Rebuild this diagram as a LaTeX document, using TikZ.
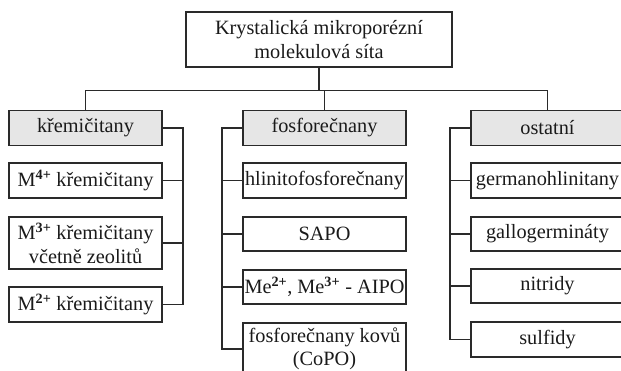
\documentclass[tikz,border=0pt]{standalone}
\usepackage{fontspec}
\setmainfont{Liberation Serif}
\definecolor{lc}{HTML}{2A2A2A}
\definecolor{tc}{HTML}{1A1A1A}
\definecolor{gf}{HTML}{E6E6E6}
\newcommand{\supx}[1]{\textsuperscript{\bfseries #1}}
\tikzset{
  box/.style={draw=lc, line width=1.3pt, inner sep=0pt, align=center, text=tc,
    font=\fontsize{20.3}{23.5}\selectfont, minimum height=35pt},
  hdr/.style={box, fill=gf},
  conn/.style={draw=lc, line width=1.3pt},
  lcol/.style={minimum width=153pt},
  mcol/.style={minimum width=163pt},
  rcol/.style={minimum width=153pt},
}
\begin{document}
\begin{tikzpicture}[x=1pt,y=1pt]
\useasboundingbox (0,0) rectangle (621,-371);
\clip (0,0) rectangle (621,-371);
% top
\node[box, minimum width=266pt, minimum height=55pt] (top) at (319,-39.5) {Krystalická mikroporézní\\molekulová síta};
% left column
\node[hdr, lcol] (k) at (85.5,-128) {křemičitany};
\node[box, lcol] (k4) at (85.5,-180.5) {M\supx{4+} křemičitany};
\node[box, lcol, minimum height=52pt] (k3) at (85.5,-243) {M\supx{3+} křemičitany\\včetně zeolitů};
\node[box, lcol] (k2) at (85.5,-304.5) {M\supx{2+} křemičitany};
% middle column
\node[hdr, mcol] (f) at (324.5,-128) {fosforečnany};
\node[box, mcol] (f1) at (324.5,-180.5) {hlinitofosforečnany};
\node[box, mcol, minimum height=34pt] (f2) at (324.5,-234) {SAPO};
\node[box, mcol, minimum height=34pt] (f3) at (324.5,-287) {Me\supx{2+}, Me\supx{3+} - AIPO};
\node[box, mcol, minimum height=52pt] (f4) at (324.5,-349) {fosforečnany kovů\\(CoPO)};
% right column
\node[hdr, rcol] (o) at (547.5,-128) {ostatní};
\node[box, rcol] (o1) at (547.5,-180.5) {germanohlinitany};
\node[box, rcol, minimum height=34pt] (o2) at (547.5,-234) {gallogermináty};
\node[box, rcol, minimum height=34pt] (o3) at (547.5,-286) {nitridy};
\node[box, rcol] (o4) at (547.5,-339.5) {sulfidy};
% tree
\draw[conn] (top.south) -- ++(0,-23) coordinate (j);
\draw[conn] (k.north) |- (j) -| (o.north);
\draw[conn] (f.north) -- (f.north |- j);
% left bracket
\coordinate (lb) at (183,0);
\draw[conn] (k.east) -- (k.east -| lb) -- (k2.east -| lb) -- (k2.east);
\draw[conn] (k4.east) -- (k4.east -| lb);
\draw[conn] (k3.east) -- (k3.east -| lb);
% middle bracket
\coordinate (mb) at (222,0);
\draw[conn] (f.west) -- (f.west -| mb) -- (f4.west -| mb) -- (f4.west);
\draw[conn] (f1.west) -- (f1.west -| mb);
\draw[conn] (f2.west) -- (f2.west -| mb);
\draw[conn] (f3.west) -- (f3.west -| mb);
% right bracket
\coordinate (rb) at (450,0);
\draw[conn] (o.west) -- (o.west -| rb) -- (o4.west -| rb) -- (o4.west);
\draw[conn] (o1.west) -- (o1.west -| rb);
\draw[conn] (o2.west) -- (o2.west -| rb);
\draw[conn] (o3.west) -- (o3.west -| rb);
\end{tikzpicture}
\end{document}
